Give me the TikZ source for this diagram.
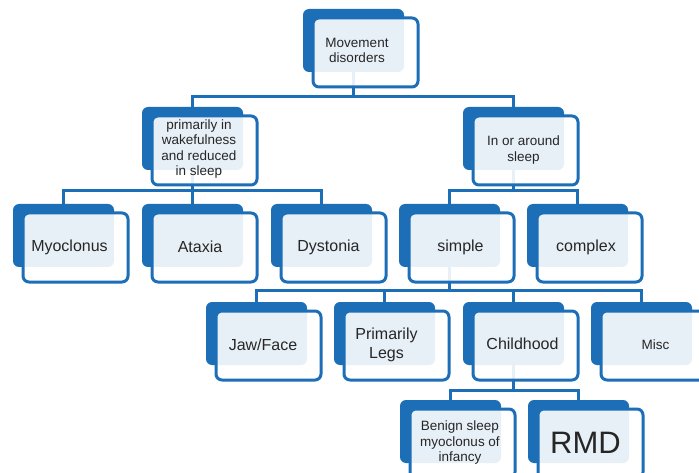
\documentclass[tikz,border=0pt]{standalone}
\usepackage{fontspec}
\setmainfont{Liberation Sans}
\usetikzlibrary{backgrounds}
\definecolor{sblue}{HTML}{1C6EB7}
\definecolor{stext}{HTML}{262626}
\newcommand\mkbox[5]{%
  \node[backbox, anchor=north west] (#1b) at (#2,#3) {};
  \node[frontbox, anchor=north west] (#1f) at ([shift={(10,9)}]#1b.north west) {};
  \node[lbl,#5] (#1) at ([shift={(55.5,43)}]#1b.north west) {#4};}
\begin{document}
\begin{tikzpicture}[x=1pt,y=-1pt,
  backbox/.style={fill=sblue, rounded corners=6pt, minimum width=101pt, minimum height=63pt, inner sep=0pt, outer sep=0pt},
  frontbox/.style={draw=sblue, line width=3pt, fill=white, fill opacity=0.9, rounded corners=6pt, minimum width=105pt, minimum height=69pt, inner sep=0pt, outer sep=0pt},
  conn/.style={draw=sblue, line width=3pt},
  lbl/.style={text=stext, align=center, inner sep=0pt, font=\fontsize{13.5}{15.5}\selectfont},
  big/.style={font=\fontsize{16}{18.5}\selectfont},
  huge/.style={font=\fontsize{31}{34}\selectfont}]
\useasboundingbox (0,0) rectangle (699,473);
\clip (0,0) rectangle (699,473);

\mkbox{mov}{303}{9}{Movement\\disorders}{xshift=-1.5pt, yshift=1.5pt}
\mkbox{wake}{142}{107}{primarily in\\wakefulness\\and reduced\\in sleep}{xshift=1.5pt, yshift=1pt}
\mkbox{sleep}{463}{107}{In or around\\sleep}{xshift=5pt}
\mkbox{myo}{13}{204}{Myoclonus}{big, xshift=1pt}
\mkbox{ata}{142}{204}{Ataxia}{big, xshift=2.5pt}
\mkbox{dys}{271}{204}{Dystonia}{big, xshift=2pt}
\mkbox{simple}{399}{204}{simple}{big, xshift=6pt}
\mkbox{complex}{527}{204}{complex}{big, xshift=3.5pt}
\mkbox{jaw}{206}{302}{Jaw/Face}{big, xshift=1.5pt}
\mkbox{legs}{334}{302}{Primarily\\Legs}{big, xshift=-3pt}
\mkbox{child}{463}{302}{Childhood}{big, xshift=4pt, yshift=1.5pt}
\mkbox{misc}{591}{302}{Misc}{xshift=9pt}
\mkbox{benign}{400}{400}{Benign sleep\\myoclonus of\\infancy}{xshift=4.5pt}
\mkbox{rmd}{528}{400}{RMD}{huge, xshift=2pt}

\coordinate (busA) at (0,97);
\coordinate (busB) at (0,191);
\coordinate (busC) at (0,290);
\coordinate (busD) at (0,390);

\begin{pgfonlayer}{background}
\fill[white] (0,0) rectangle (699,473);
\draw[conn] (movb.center) -- (movb.center |- busA);
\draw[conn] (wakeb.north) -- (wakeb.north |- busA) -- (sleepb.north |- busA) -- (sleepb.north);
\draw[conn] (wakeb.center) -- (wakeb.center |- busB);
\draw[conn] (myob.north) -- (myob.north |- busB) -- (dysb.north |- busB) -- (dysb.north);
\draw[conn] (atab.north) -- (atab.north |- busB);
\draw[conn] (sleepb.center) -- (sleepb.center |- busB);
\draw[conn] (simpleb.north) -- (simpleb.north |- busB) -- (complexb.north |- busB) -- (complexb.north);
\draw[conn] (simpleb.center) -- (simpleb.center |- busC);
\draw[conn] (jawb.north) -- (jawb.north |- busC) -- (miscb.north |- busC) -- (miscb.north);
\draw[conn] (legsb.north) -- (legsb.north |- busC);
\draw[conn] (childb.north) -- (childb.north |- busC);
\draw[conn] (childb.center) -- (childb.center |- busD);
\draw[conn] (benignb.north) -- (benignb.north |- busD) -- (rmdb.north |- busD) -- (rmdb.north);
\end{pgfonlayer}
\end{tikzpicture}
\end{document}
